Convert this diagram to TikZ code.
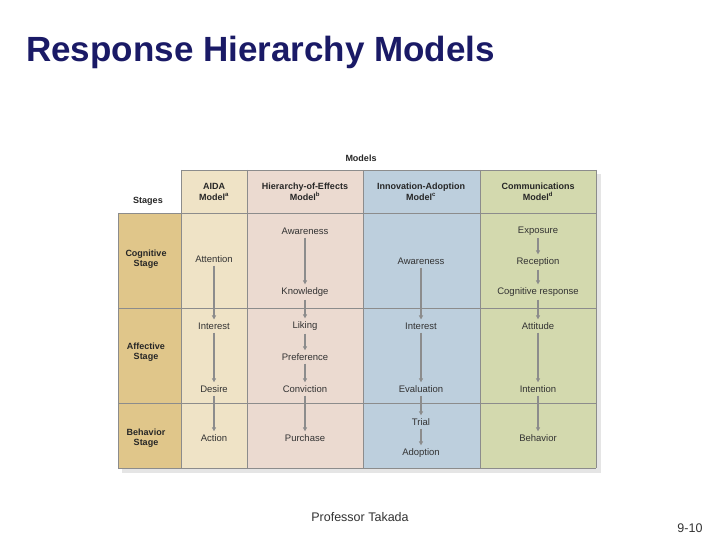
\documentclass[tikz,border=0pt]{standalone}
\usepackage{fontspec}
\setmainfont{Liberation Sans}
\usetikzlibrary{arrows.meta}
\definecolor{stagec}{HTML}{E0C68A}
\definecolor{aidac}{HTML}{EFE3C6}
\definecolor{hoec}{HTML}{EBDAD0}
\definecolor{iac}{HTML}{BDCFDD}
\definecolor{commc}{HTML}{D3D9AE}
\definecolor{gridc}{HTML}{8C8C8C}
\definecolor{titlec}{HTML}{1A1A66}
\begin{document}
\begin{tikzpicture}[x=1pt,y=-1pt,
  cell/.style={font=\fontsize{9.5}{10}\selectfont,text=black!80,inner sep=1pt},
  hd/.style={font=\bfseries\fontsize{9}{10.5}\selectfont,align=center,text=black!85,inner sep=1pt},
  arr/.style={-{Triangle[width=4pt,length=4pt]},draw=gridc,line width=1.1pt,shorten >=2pt,shorten <=2pt}]
\useasboundingbox (0,0) rectangle (720,540);
\fill[white] (0,0) rectangle (720,540);
% shadow
\fill[black!10] (185,174) rectangle (601,473);
\fill[black!10] (122,217) rectangle (601,473);
% columns
\fill[stagec] (118,213) rectangle (181,468);
\fill[aidac] (181,170) rectangle (247,468);
\fill[hoec] (247,170) rectangle (363,468);
\fill[iac] (363,170) rectangle (480,468);
\fill[commc] (480,170) rectangle (596,468);
% grid
\draw[gridc,line width=0.7pt] (181,170) -- (596,170);
\draw[gridc,line width=0.7pt] (118,213) -- (596,213) (118,308) -- (596,308) (118,403) -- (596,403) (118,468) -- (596,468);
\foreach \x in {181,247,363,480,596} \draw[gridc,line width=0.7pt] (\x,170) -- (\x,468);
\draw[gridc,line width=0.7pt] (118,213) -- (118,468);
% headers
\node[hd] (models) at (361,158) {Models};
\node[hd] (stages) at (148,201) {Stages};
\node[hd] (h1) at (214,192) {AIDA\\Model\textsuperscript{a}};
\node[hd] (h2) at (305,192) {Hierarchy-of-Effects\\Model\textsuperscript{b}};
\node[hd] (h3) at (421,192) {Innovation-Adoption\\Model\textsuperscript{c}};
\node[hd] (h4) at (538,192) {Communications\\Model\textsuperscript{d}};
\node[hd] (s1) at (146,259) {Cognitive\\Stage};
\node[hd] (s2) at (146,352) {Affective\\Stage};
\node[hd] (s3) at (146,438) {Behavior\\Stage};
% AIDA
\node[cell] (a1) at (214,259) {Attention};
\node[cell] (a2) at (214,326) {Interest};
\node[cell] (a3) at (214,389) {Desire};
\node[cell] (a4) at (214,438) {Action};
% HoE
\node[cell] (b1) at (305,231) {Awareness};
\node[cell] (b2) at (305,292) {Knowledge};
\node[cell] (b3) at (305,326) {Liking};
\node[cell] (b4) at (305,357) {Preference};
\node[cell] (b5) at (305,389) {Conviction};
\node[cell] (b6) at (305,438) {Purchase};
% IA
\node[cell] (c1) at (421,261) {Awareness};
\node[cell] (c2) at (421,326) {Interest};
\node[cell] (c3) at (421,389) {Evaluation};
\node[cell] (c4) at (421,422) {Trial};
\node[cell] (c5) at (421,453) {Adoption};
% Comm
\node[cell] (d1) at (538,231) {Exposure};
\node[cell] (d2) at (538,262) {Reception};
\node[cell] (d3) at (538,292) {Cognitive response};
\node[cell] (d4) at (538,326) {Attitude};
\node[cell] (d5) at (538,389) {Intention};
\node[cell] (d6) at (538,438) {Behavior};
\foreach \p/\q in {a1/a2,a2/a3,a3/a4,b1/b2,b2/b3,b3/b4,b4/b5,b5/b6,c1/c2,c2/c3,c3/c4,c4/c5,d1/d2,d2/d3,d3/d4,d4/d5,d5/d6}
  \draw[arr] (\p) -- (\q);
% title and footer
\node[anchor=west,font=\bfseries\fontsize{35}{38}\selectfont,text=titlec,inner sep=0] (title) at (26,52) {Response Hierarchy Models};
\node[font=\fontsize{12.5}{15}\selectfont,text=black!80] (prof) at (360,517) {Professor Takada};
\node[font=\fontsize{12.5}{15}\selectfont,text=black!80] (pg) at (690,528) {9-10};
\end{tikzpicture}
\end{document}
